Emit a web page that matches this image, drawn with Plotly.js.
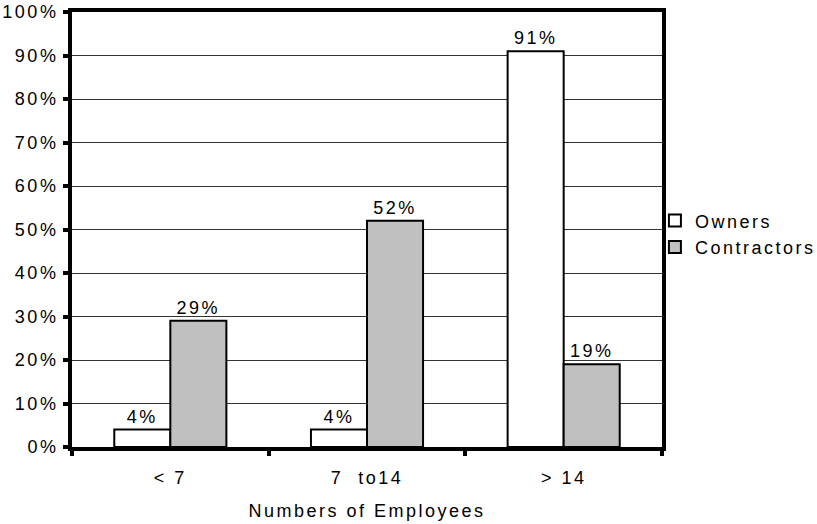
<!DOCTYPE html>
<html><head><meta charset="utf-8">
<script src="https://cdn.plot.ly/plotly-3.0.1.min.js"></script>
<style>html,body{margin:0;padding:0;background:#fff}
text{letter-spacing:2.5px}</style>
</head><body><div id="chart" style="width:817px;height:524px"></div>
<script>
var categories = ['< 7', '7  to14', '> 14'];
var ownersValues = [4, 4, 91];
var contractorsValues = [29, 52, 19];
var yTickVals = [0,10,20,30,40,50,60,70,80,90,100];
var yTickText = yTickVals.map(function(v){return v + '%';});

var font = {family: 'Liberation Sans, Arial, sans-serif', size: 18, color: '#000'};
var traces = [
  {type:'bar', name:'Owners', x:categories, y:ownersValues,
   text: ownersValues.map(function(v){return v+'%';}), textposition:'outside',
   textfont: font, cliponaxis:false,
   marker:{color:'#ffffff', line:{color:'#000', width:2}}},
  {type:'bar', name:'Contractors', x:categories, y:contractorsValues,
   text: contractorsValues.map(function(v){return v+'%';}), textposition:'outside',
   textfont: font, cliponaxis:false,
   marker:{color:'#c0c0c0', line:{color:'#000', width:2}}}
];
var layout = {
  width:817, height:524,
  margin:{l:72, r:155, t:12, b:77, autoexpand:false},
  paper_bgcolor:'#fff', plot_bgcolor:'#fff',
  font: font,
  barmode:'group', bargap:0.43, bargroupgap:0,
  showlegend:true,
  legend:{x:0.988, xanchor:'left', y:0.49, yanchor:'middle', font:font,
          bgcolor:'rgba(0,0,0,0)', tracegroupgap:0, itemwidth:30},
  xaxis:{type:'category', showline:true, linewidth:4, linecolor:'#000', mirror:true,
         ticks:'outside', tickson:'boundaries', ticklen:5, tickwidth:4, tickcolor:'#000',
         ticklabelstandoff:11,
         showgrid:false, tickfont:font,
         title:{text:'Numbers of Employees', font:font, standoff:19}},
  yaxis:{range:[0,100], tickvals:yTickVals, ticktext:yTickText,
         showline:true, linewidth:4, linecolor:'#000', mirror:true,
         ticks:'outside', ticklen:5, tickwidth:4, tickcolor:'#000', ticklabelstandoff:1,
         showgrid:true, gridcolor:'#333', gridwidth:1, tickfont:font, zeroline:false}
};
Plotly.newPlot('chart', traces, layout, {displayModeBar:false, staticPlot:true});
</script></body></html>
